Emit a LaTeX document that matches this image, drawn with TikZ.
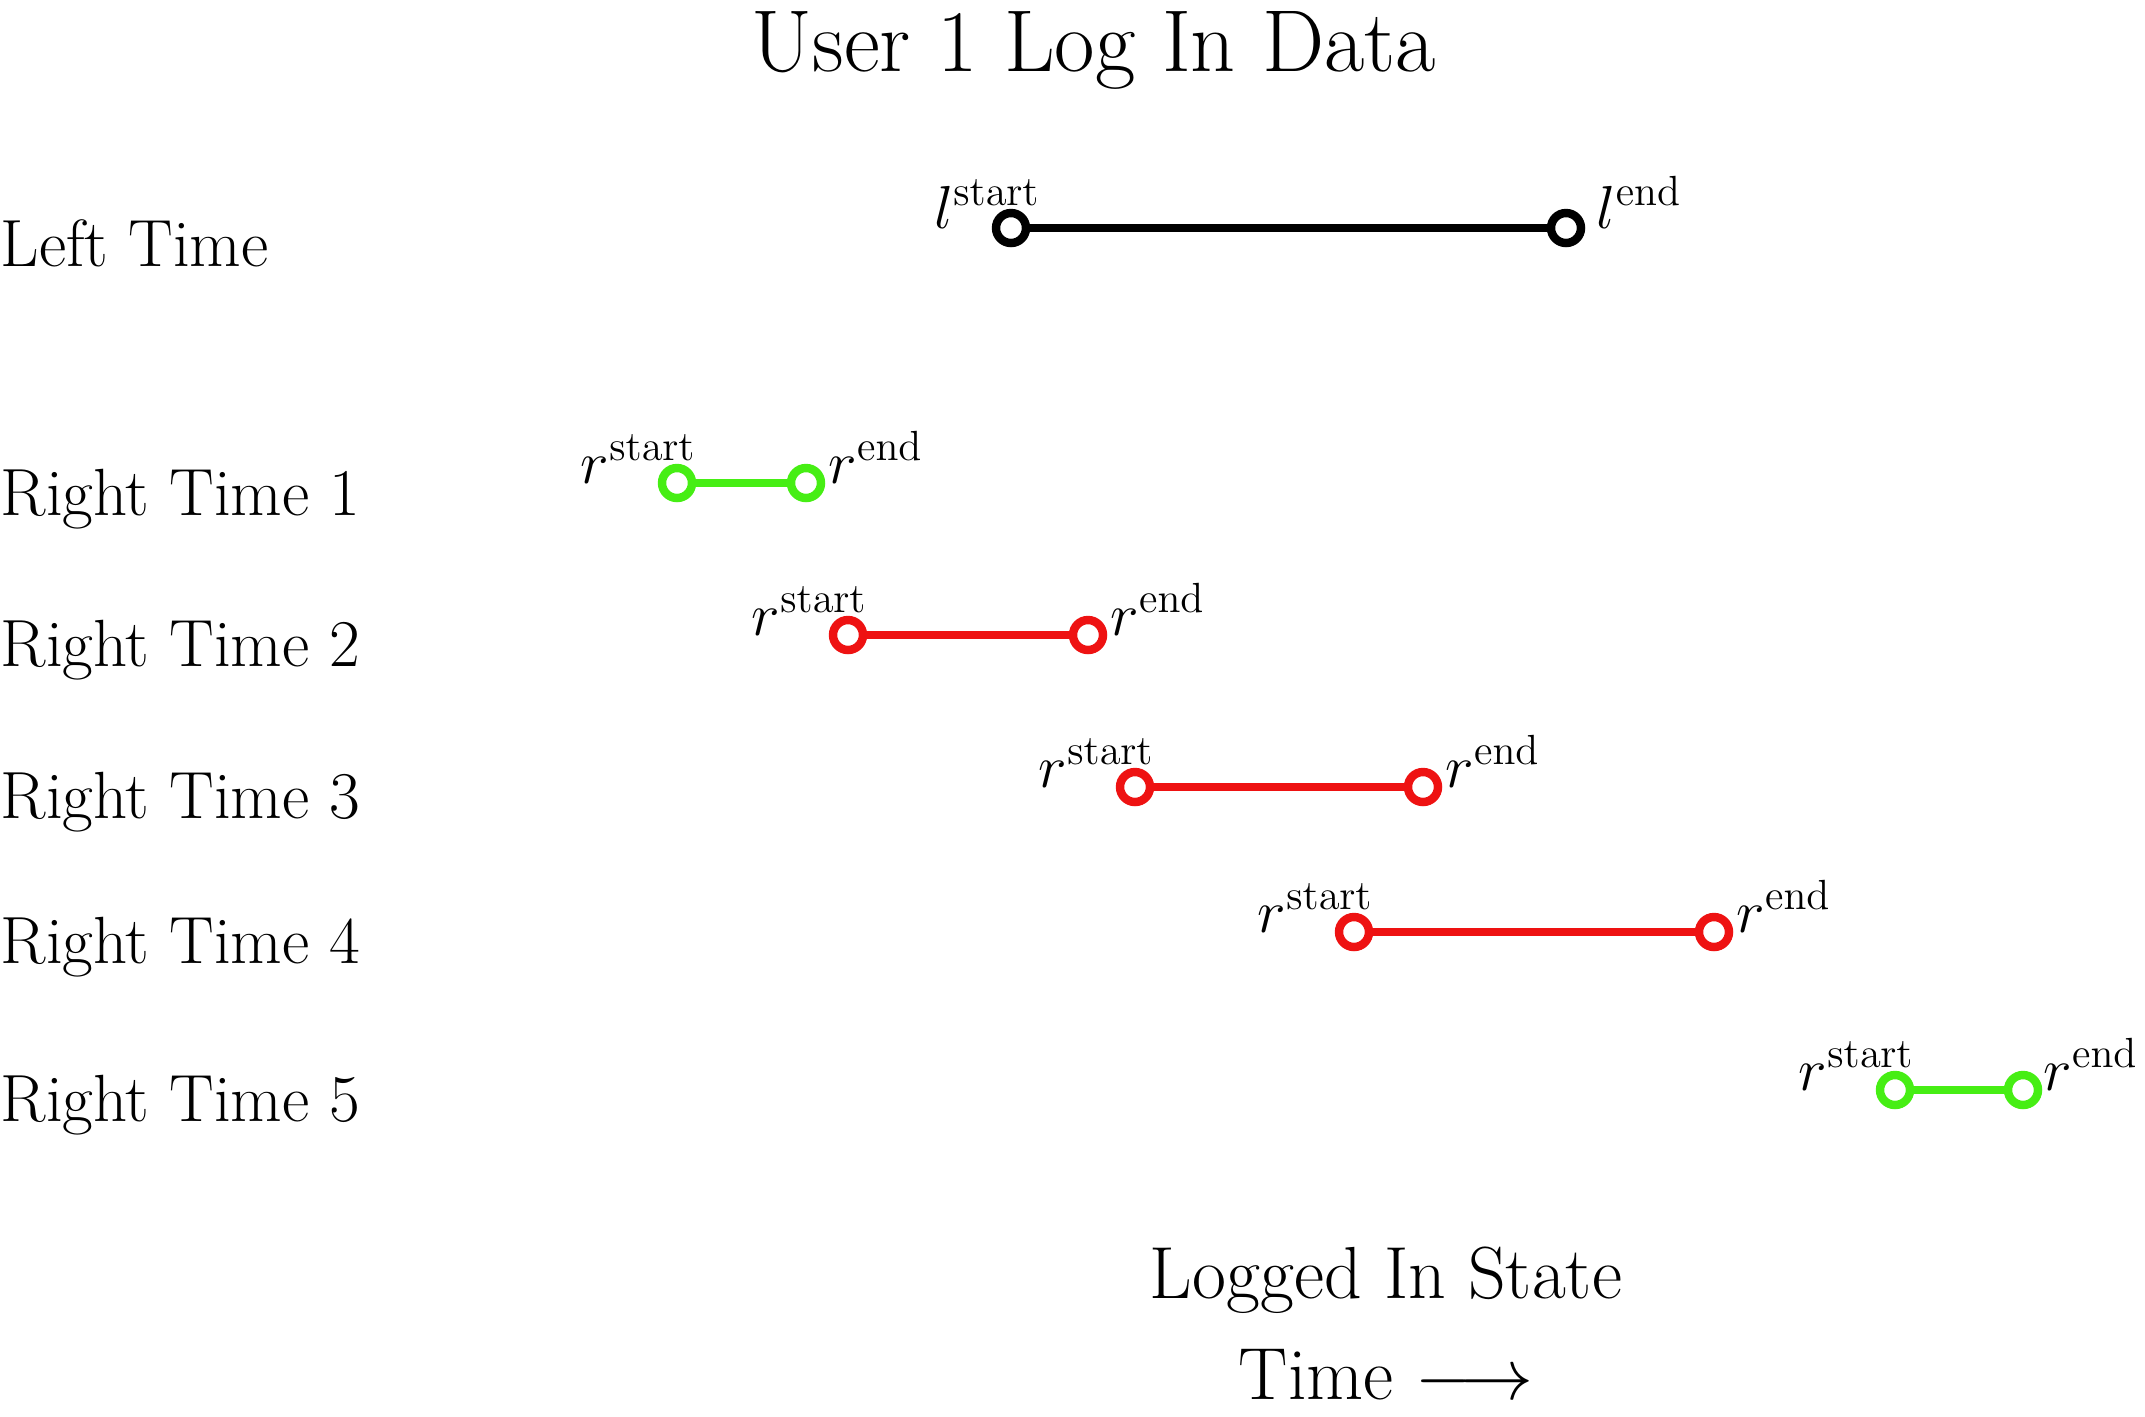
\documentclass[tikz,border=0pt]{standalone}
\usepackage{amsmath}
\usepackage{xcolor}
\usepackage{tikz}
\usetikzlibrary{positioning}
\definecolor{okgreen}{RGB}{70,238,20}
\definecolor{badred}{RGB}{238,18,18}

\begin{document}
\begin{tikzpicture}[
  pt/.style={circle,draw,line width=2.4pt,fill=white,inner sep=0pt,minimum size=0.3cm},
  span/.style={line width=2.2pt},
  row/.style={anchor=west,inner sep=0pt,font=\fontsize{19}{23}\selectfont},
  lab/.style={inner sep=0pt,font=\fontsize{18}{22}\selectfont},
  big/.style={inner sep=0pt,font=\fontsize{21}{25}\selectfont}]
\useasboundingbox (0,0) rectangle (21.45,-14.16);
\node[inner sep=0pt,font=\fontsize{25}{30}\selectfont] (title) at (10.94,-0.50) {User 1 Log In Data};
% row labels
\node[row] (left) at (0,-2.43) {Left Time};
\node[row] (r1) at (0,-4.99) {Right Time 1};
\node[row] (r2) at (0,-6.50) {Right Time 2};
\node[row] (r3) at (0,-8.02) {Right Time 3};
\node[row] (r4) at (0,-9.47) {Right Time 4};
\node[row] (r5) at (0,-11.05) {Right Time 5};
% left interval
\node[pt] (ls) at (10.11,-2.28) {};
\node[pt] (le) at (15.66,-2.28) {};
\draw[span] (ls) -- (le);
\node[lab,anchor=base east,xshift=3mm] (lsl) at (ls) {$l^{\mathrm{start}}$};
\node[lab,anchor=base west,xshift=3mm] (lel) at (le) {$l^{\mathrm{end}}$};
% right intervals
\node[pt,draw=okgreen] (s1) at (6.77,-4.83) {};
\node[pt,draw=okgreen] (e1) at (8.06,-4.83) {};
\draw[span,okgreen] (s1) -- (e1);
\node[pt,draw=badred] (s2) at (8.48,-6.35) {};
\node[pt,draw=badred] (e2) at (10.88,-6.35) {};
\draw[span,badred] (s2) -- (e2);
\node[pt,draw=badred] (s3) at (11.35,-7.87) {};
\node[pt,draw=badred] (e3) at (14.23,-7.87) {};
\draw[span,badred] (s3) -- (e3);
\node[pt,draw=badred] (s4) at (13.54,-9.32) {};
\node[pt,draw=badred] (e4) at (17.14,-9.32) {};
\draw[span,badred] (s4) -- (e4);
\node[pt,draw=okgreen] (s5) at (18.95,-10.90) {};
\node[pt,draw=okgreen] (e5) at (20.23,-10.90) {};
\draw[span,okgreen] (s5) -- (e5);
\node[lab,anchor=base east,xshift=2mm] (s1l) at (s1) {$r^{\mathrm{start}}$};
\node[lab,anchor=base west,xshift=2.2mm] (e1l) at (e1) {$r^{\mathrm{end}}$};
\node[lab,anchor=base east,xshift=2mm] (s2l) at (s2) {$r^{\mathrm{start}}$};
\node[lab,anchor=base west,xshift=2.2mm] (e2l) at (e2) {$r^{\mathrm{end}}$};
\node[lab,anchor=base east,xshift=2mm] (s3l) at (s3) {$r^{\mathrm{start}}$};
\node[lab,anchor=base west,xshift=2.2mm] (e3l) at (e3) {$r^{\mathrm{end}}$};
\node[lab,anchor=base east,xshift=2mm] (s4l) at (s4) {$r^{\mathrm{start}}$};
\node[lab,anchor=base west,xshift=2.2mm] (e4l) at (e4) {$r^{\mathrm{end}}$};
\node[lab,anchor=base east,xshift=2mm] (s5l) at (s5) {$r^{\mathrm{start}}$};
\node[lab,anchor=base west,xshift=2mm] (e5l) at (e5) {$r^{\mathrm{end}}$};
% axis caption
\node[big] (state) at (13.86,-12.80) {Logged In State};
\node[big,below=0.35cm of state] (time) {Time $\longrightarrow$};
\end{tikzpicture}
\end{document}
